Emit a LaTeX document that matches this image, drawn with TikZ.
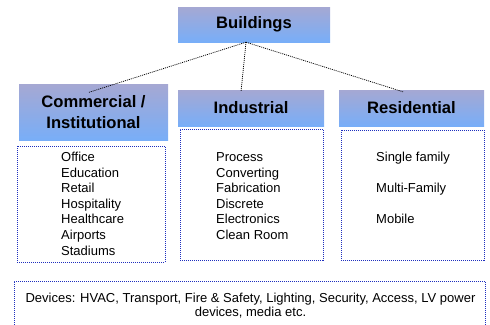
\documentclass[tikz,border=0pt]{standalone}
\usepackage{fontspec}
\setmainfont{Liberation Sans}
\begin{document}
\begin{tikzpicture}[x=1pt,y=-1pt,
  title/.style={rectangle, draw=none, top color=titletop, bottom color=titlebot,
    font=\fontsize{16.6}{18}\selectfont\bfseries, align=center, inner sep=0pt},
  listbox/.style={rectangle, draw=listblue, line width=0.9pt, dash pattern=on 1pt off 1pt, inner sep=0pt},
  items/.style={font=\fontsize{13}{15.6}\selectfont, align=left, inner sep=0pt, anchor=base west},
  link/.style={draw=black, line width=0.75pt, dash pattern=on 1pt off 1pt}]
\definecolor{titletop}{HTML}{A5A8D3}
\definecolor{titlebot}{HTML}{78AEF8}
\definecolor{listblue}{HTML}{1E2FBE}
\useasboundingbox (0,0) rectangle (490,324);

% category headers
\node[title, minimum width=152pt, minimum height=35pt] (bld) at (254,24.5) {Buildings};
\node[title, minimum width=149pt, minimum height=56pt] (com) at (93.5,112.5) {Commercial /\\[3pt]Institutional};
\node[title, minimum width=146pt, minimum height=36pt] (ind) at (251,108) {Industrial};
\node[title, minimum width=145pt, minimum height=36pt] (res) at (411.5,108) {Residential};

% dotted frames holding the lists
\node[listbox, minimum width=148pt, minimum height=116pt] (comlist) at (91,204) {};
\node[listbox, minimum width=143pt, minimum height=131pt] (indlist) at (251.5,194.5) {};
\node[listbox, minimum width=143pt, minimum height=130pt] (reslist) at (412.5,195) {};
\node[listbox, minimum width=471pt, minimum height=45pt] (dev) at (249.5,303.5) {};

% list contents (anchored on the baseline of the last line)
\node[items] (comitems) at (61,255.1) {Office\\Education\\Retail\\Hospitality\\Healthcare\\Airports\\Stadiums};
\node[items] (inditems) at (216,239.5) {Process\\Converting\\Fabrication\\Discrete\\Electronics\\Clean Room};
\node[items, font=\fontsize{13}{31}\selectfont] (resitems) at (376,223.5) {Single family\\Multi-Family\\Mobile};
\node[font=\fontsize{13}{14.5}\selectfont, align=center, inner sep=0pt, anchor=base] (devtext) at (250.5,316.5)
  {Devices: HVAC, Transport, Fire \& Safety, Lighting, Security, Access, LV power\\devices, media etc.};

% connectors from the top box
\coordinate (hub) at ([xshift=-8pt]bld.south);
\coordinate (comend) at ([xshift=-4.5pt,yshift=-8pt]com.north);
\coordinate (indend) at ([xshift=-10pt,yshift=-2pt]ind.north);
\coordinate (resend) at ([xshift=-8.5pt,yshift=-2pt]res.north);
\draw[link] (hub) -- (comend);
\draw[link] (hub) -- (indend);
\draw[link] (hub) -- (resend);
\end{tikzpicture}
\end{document}
